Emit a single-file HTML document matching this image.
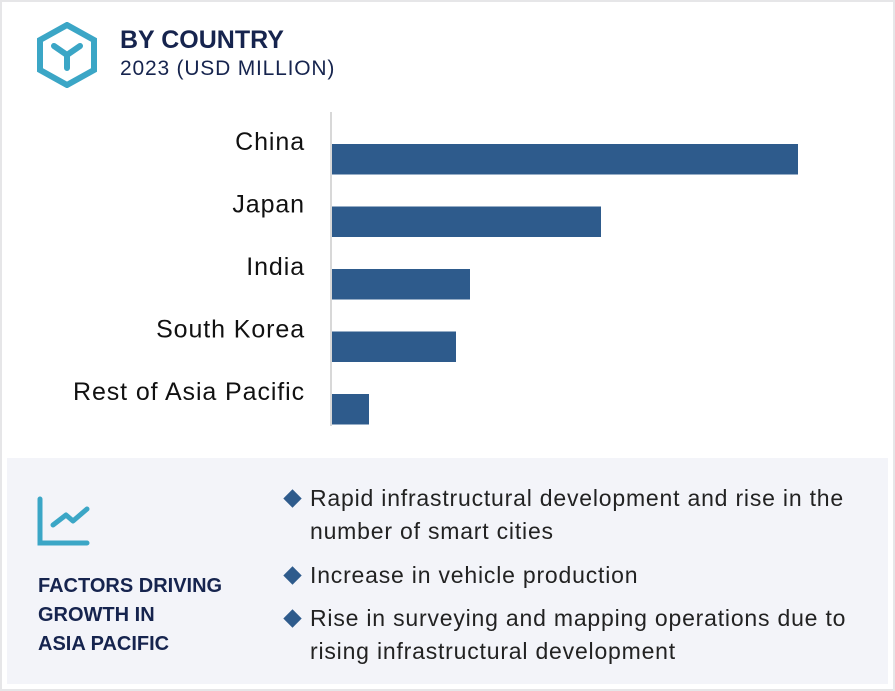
<!DOCTYPE html>
<html><head><meta charset="utf-8"><style>
body{margin:0;width:895px;height:691px;background:#fff;font-family:"Liberation Sans",sans-serif;overflow:hidden;position:relative}
.frame{position:absolute;left:0;top:0;width:891px;height:687px;border:2px solid #e6e6e8}
.t{position:absolute;white-space:nowrap}
.panel{position:absolute;left:7px;top:458px;width:881px;height:226px;background:#f3f4f9}
.bul{position:absolute;left:310px;font-size:23px;letter-spacing:0.8px;color:#222;line-height:33px}
.dia{position:absolute;left:286px;width:13px;height:13px;background:#2e5b8c;transform:rotate(45deg)}
</style></head><body>
<div class="frame"></div>
<svg class="t" style="left:36px;top:22px" width="62" height="66">
<polygon points="31,3 58,18 58,48 31,63 4,48 4,18" fill="none" stroke="#3ba6c6" stroke-width="6"/>
<path d="M18,24 L31,33 L44,24 M31,33 L31,46" fill="none" stroke="#3ba6c6" stroke-width="6" stroke-linecap="round"/>
</svg>
<div class="t" style="left:120px;top:26px;font-size:25px;font-weight:bold;color:#16244e">BY COUNTRY</div>
<div class="t" style="left:120px;top:57px;font-size:21px;letter-spacing:0.8px;color:#16244e">2023 (USD MILLION)</div>
<svg id="chart" class="t" style="left:0;top:0" width="895" height="450"></svg>
<div class="panel"></div>
<svg class="t" style="left:36px;top:496px" width="56" height="52">
<path d="M4,3 L4,47 L51,47" fill="none" stroke="#3ba6c6" stroke-width="5" stroke-linecap="round"/>
<path d="M17,29 L30,19 L37,25 L51,13" fill="none" stroke="#3ba6c6" stroke-width="5" stroke-linecap="round" stroke-linejoin="round"/>
</svg>
<div class="t" style="left:38px;top:572px;font-size:20px;font-weight:bold;color:#16244e;line-height:29px">FACTORS DRIVING<br>GROWTH IN<br>ASIA PACIFIC</div>
<div class="dia" style="top:492px"></div>
<div class="bul" style="top:482px">Rapid infrastructural development and rise in the<br>number of smart cities</div>
<div class="dia" style="top:569px"></div>
<div class="bul" style="top:559px">Increase in vehicle production</div>
<div class="dia" style="top:612px"></div>
<div class="bul" style="top:602px">Rise in surveying and mapping operations due to<br>rising infrastructural development</div>
<script>
const categories=["China","Japan","India","South Korea","Rest of Asia Pacific"];
const values=[466,269,138,124,37];
const svg=document.getElementById('chart');
const NS='http://www.w3.org/2000/svg';
const x0=331,maxV=466,maxW=466;
function xs(v){return v/maxV*maxW;}
function ys(i){return 144+i*62.5;}
const ax=document.createElementNS(NS,'line');
ax.setAttribute('x1',x0);ax.setAttribute('x2',x0);ax.setAttribute('y1',112);ax.setAttribute('y2',426);
ax.setAttribute('stroke','#ccc');ax.setAttribute('stroke-width','1.5');


svg.appendChild(ax);
categories.forEach((c,i)=>{
 const r=document.createElementNS(NS,'rect');
 r.setAttribute('x',x0+1);r.setAttribute('y',ys(i));r.setAttribute('width',xs(values[i]));r.setAttribute('height',30.5);
 r.setAttribute('fill','#2e5b8c');
 
 
 svg.appendChild(r);
 const t=document.createElementNS(NS,'text');
 t.setAttribute('x',305);t.setAttribute('y',ys(i)+6);t.setAttribute('text-anchor','end');
 t.setAttribute('font-size','25');t.setAttribute('letter-spacing','0.9');t.setAttribute('fill','#111');t.setAttribute('font-family','Liberation Sans, sans-serif');
 t.textContent=c;
 
 
 svg.appendChild(t);
});
</script>
</body></html>
